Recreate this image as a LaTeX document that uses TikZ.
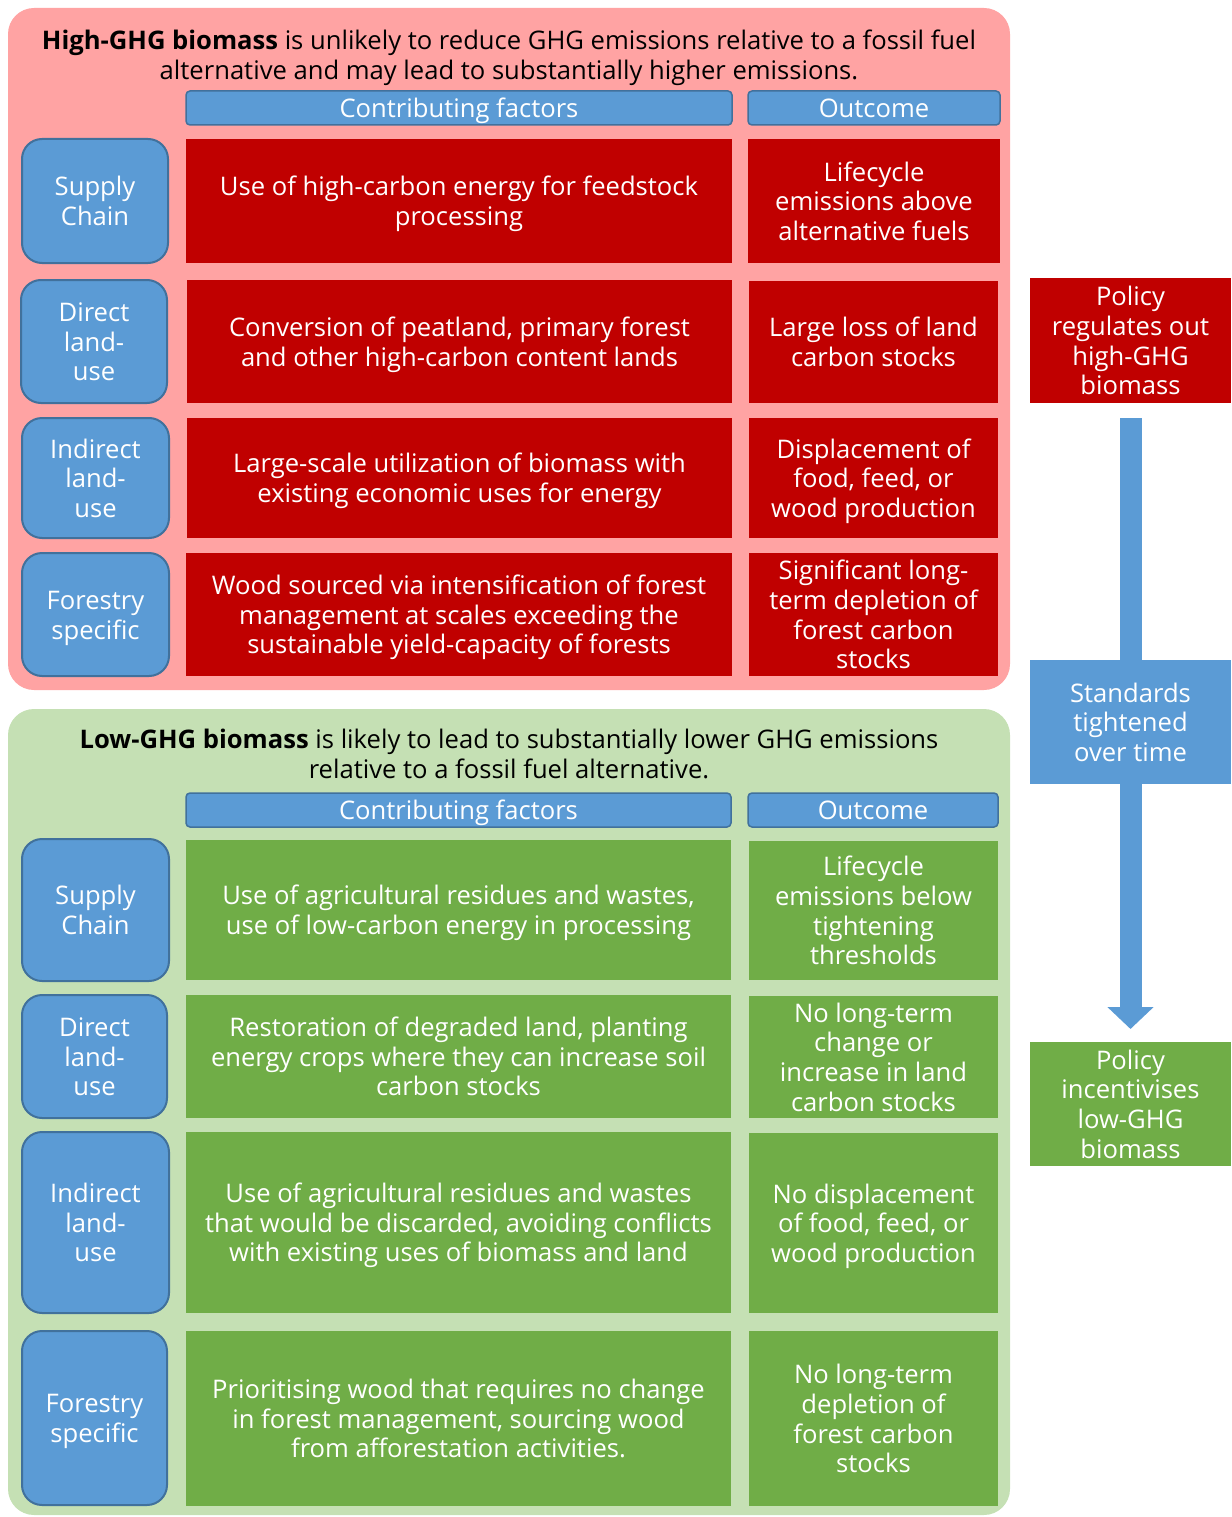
\documentclass[tikz,border=0pt]{standalone}
\usepackage{fontspec}
\setmainfont{Open Sans}
\usetikzlibrary{arrows.meta}
\definecolor{pinkbg}{HTML}{FFA3A3}
\definecolor{greenbg}{HTML}{C5E0B4}
\definecolor{darkred}{HTML}{C00000}
\definecolor{leafgreen}{HTML}{70AD47}
\definecolor{boxblue}{HTML}{5B9BD5}
\definecolor{blueedge}{HTML}{41719C}
\newcommand\lnstrut{\vrule width 0pt height 26pt depth 6.5pt\relax}
\newcommand\bx[7]{%
  \pgfmathsetmacro\bw{#5-#3}\pgfmathsetmacro\bh{#6-#4}%
  \node[#1,minimum width=\bw pt,minimum height=\bh pt] (#2) at ({(#3+#5)/2},{(#4+#6)/2}) {\lnstrut #7\lnstrut};}
\tikzset{
  txt/.style={inner sep=0pt,outer sep=0pt,align=center,
    font=\fontsize{25.6}{29.6}\selectfont},
  base/.style={txt,text=white},
  redcell/.style={base,fill=darkred},
  greencell/.style={base,fill=leafgreen},
  sidebox/.style={base,fill=boxblue,draw=blueedge,line width=2pt,rounded corners=20pt},
  headbox/.style={base,fill=boxblue,draw=blueedge,line width=1.5pt,rounded corners=4pt},
  bluecell/.style={base,fill=boxblue},
  titletext/.style={txt,text=black},
  bigarrow/.style={draw=boxblue,line width=22pt,-{Triangle[width=45pt,length=22pt]}}
}
\begin{document}
\lineskiplimit=-100pt\relax
\begin{tikzpicture}[x=1pt,y=-1pt]
\useasboundingbox (0,0) rectangle (1231,1517);
% panels
\fill[pinkbg,rounded corners=26pt] (8,8) rectangle (1010,690);
\fill[greenbg,rounded corners=26pt] (8,709) rectangle (1010,1515);
% top panel
\node[titletext] (ttop) at (509,55) {\lnstrut\textbf{High-GHG biomass} is unlikely to reduce GHG emissions relative to a fossil fuel\\alternative and may lead to substantially higher emissions.\lnstrut};
\bx{headbox}{h1}{186}{91}{732}{125}{Contributing factors}
\bx{headbox}{h2}{748}{91}{1000}{125}{Outcome}
\bx{sidebox}{s1}{22}{139}{168}{263}{Supply\\Chain}
\bx{redcell}{c1}{186}{139}{732}{263}{Use of high-carbon energy for feedstock\\processing}
\bx{redcell}{o1}{748}{139}{1000}{263}{Lifecycle\\emissions above\\alternative fuels}
\bx{sidebox}{s2}{21}{280}{167}{403}{Direct\\land-\\use}
\bx{redcell}{c2}{187}{280}{732}{403}{Conversion of peatland, primary forest\\and other high-carbon content lands}
\bx{redcell}{o2}{749}{281}{998}{403}{Large loss of land\\carbon stocks}
\bx{sidebox}{s3}{22}{418}{169}{538}{Indirect\\land-\\use}
\bx{redcell}{c3}{187}{418}{732}{538}{Large-scale utilization of biomass with\\existing economic uses for energy}
\bx{redcell}{o3}{749}{418}{998}{538}{Displacement of\\food, feed, or\\wood production}
\bx{sidebox}{s4}{22}{553}{169}{676}{Forestry\\specific}
\bx{redcell}{c4}{186}{553}{732}{676}{Wood sourced via intensification of forest\\management at scales exceeding the\\sustainable yield-capacity of forests}
\bx{redcell}{o4}{749}{553}{998}{676}{Significant long-\\term depletion of\\forest carbon\\stocks}
% bottom panel
\node[titletext] (tbot) at (509,754) {\lnstrut\textbf{Low-GHG biomass} is likely to lead to substantially lower GHG emissions\\relative to a fossil fuel alternative.\lnstrut};
\bx{headbox}{g1}{186}{793}{731}{827}{Contributing factors}
\bx{headbox}{g2}{748}{793}{998}{827}{Outcome}
\bx{sidebox}{t1}{22}{839}{169}{981}{Supply\\Chain}
\bx{greencell}{d1}{186}{840}{731}{980}{Use of agricultural residues and wastes,\\use of low-carbon energy in processing}
\bx{greencell}{p1}{749}{841}{998}{980}{Lifecycle\\emissions below\\tightening\\thresholds}
\bx{sidebox}{t2}{22}{995}{167}{1118}{Direct\\land-\\use}
\bx{greencell}{d2}{186}{995}{731}{1118}{Restoration of degraded land, planting\\energy crops where they can increase soil\\carbon stocks}
\bx{greencell}{p2}{749}{996}{998}{1118}{No long-term\\change or\\increase in land\\carbon stocks}
\bx{sidebox}{t3}{22}{1132}{169}{1313}{Indirect\\land-\\use}
\bx{greencell}{d3}{186}{1132}{731}{1313}{Use of agricultural residues and wastes\\that would be discarded, avoiding conflicts\\with existing uses of biomass and land}
\bx{greencell}{p3}{749}{1133}{998}{1313}{No displacement\\of food, feed, or\\wood production}
\bx{sidebox}{t4}{22}{1331}{167}{1505}{Forestry\\specific}
\bx{greencell}{d4}{186}{1331}{731}{1506}{Prioritising wood that requires no change\\in forest management, sourcing wood\\from afforestation activities.}
\bx{greencell}{p4}{749}{1331}{998}{1506}{No long-term\\depletion of\\forest carbon\\stocks}
% right column
\bx{redcell}{pol}{1030}{278}{1231}{403}{Policy\\regulates out\\high-GHG\\biomass}
\bx{greencell}{inc}{1030}{1042}{1231}{1166}{Policy\\incentivises\\low-GHG\\biomass}
\draw[bigarrow,shorten <=15pt,shorten >=13pt] (pol.south) -- (inc.north);
\bx{bluecell}{std}{1030}{660}{1231}{784}{Standards\\tightened\\over time}
\end{tikzpicture}
\end{document}
